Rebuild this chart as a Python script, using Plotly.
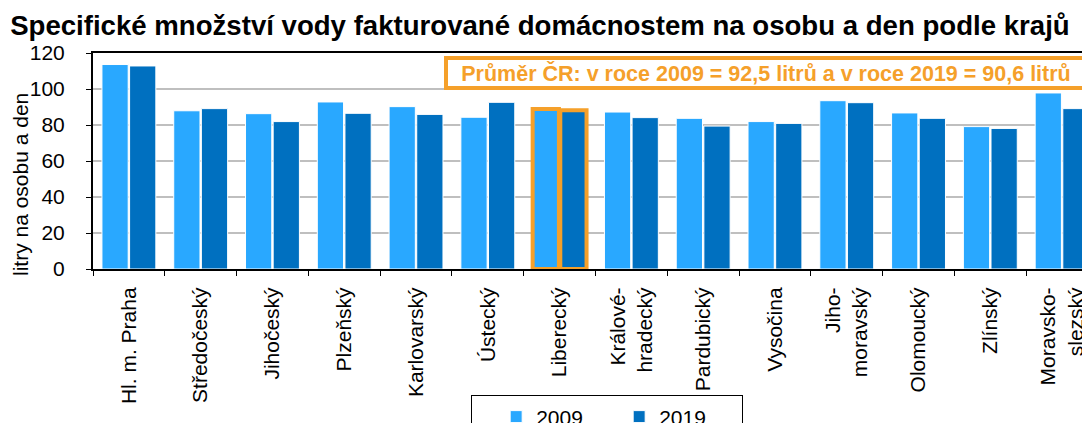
import plotly.graph_objects as go

regions = ["Hl. m. Praha", "Středočeský", "Jihočeský", "Plzeňský", "Karlovarský",
           "Ústecký", "Liberecký", "Králové-<br>hradecký", "Pardubický", "Vysočina",
           "Jiho-<br>moravský", "Olomoucký", "Zlínský", "Moravsko-<br>slezský"]
values_2009 = [113.6, 87.9, 86.3, 92.8, 90.2, 84.3, 88.9, 87.2, 83.7, 81.9, 93.5, 86.7, 79.1, 97.8]
values_2019 = [112.8, 89.1, 81.9, 86.5, 85.9, 92.6, 88.2, 84.1, 79.4, 80.9, 92.4, 83.7, 78.1, 89.1]
highlight = "Liberecký"
note = "Průměr ČR: v roce 2009 = 92,5 litrů a v roce 2019 = 90,6 litrů"

ORANGE = "#F5A02A"
FONT = "Liberation Sans, Arial, sans-serif"

# outline the highlighted region's bars in orange
line_col = [ORANGE if r == highlight else "white" for r in regions]
line_w = [4 if r == highlight else 1 for r in regions]

fig = go.Figure()
fig.add_trace(go.Bar(x=regions, y=values_2009, name="2009",
                     marker=dict(color="#29A8FF", line=dict(color=line_col, width=line_w))))
fig.add_trace(go.Bar(x=regions, y=values_2019, name="2019",
                     marker=dict(color="#0070C0", line=dict(color=line_col, width=line_w))))

fig.update_layout(
    width=1090, height=423,
    margin=dict(l=85, r=0, t=45, b=162),
    plot_bgcolor="white", paper_bgcolor="white",
    font=dict(family=FONT, size=21, color="black"),
    title=dict(text="<b>Specifické množství vody fakturované domácnostem na osobu a den podle krajů</b>",
               x=0.488, xanchor="center", y=0.958, yanchor="middle",
               font=dict(size=27.6)),
    barmode="group", bargap=0.23, bargroupgap=0.05,
    showlegend=True,
    legend=dict(orientation="h", xref="container", x=0.425, xanchor="left",
                yref="container", y=0.084, yanchor="top",
                bordercolor="black", borderwidth=1, entrywidth=78,
                font=dict(size=21), itemwidth=30,
                title=dict(text="&nbsp;&nbsp;", side="left")),
)

fig.update_xaxes(range=[-0.5, 13.5], showline=True, linecolor="black", linewidth=2, mirror=True,
                 ticks="outside", tickson="boundaries", ticklen=5, tickcolor="black",
                 tickangle=-90, ticklabelstandoff=8, showgrid=False, automargin=False)
fig.update_yaxes(range=[0, 120], dtick=20, showline=True, linecolor="black", linewidth=2,
                 ticks="outside", ticklen=5, tickcolor="black", ticklabelstandoff=17,
                 showgrid=True, gridcolor="#BFBFBF", gridwidth=1.5, automargin=False)

# y-axis title sits lower than the axis centre in the original
fig.add_annotation(text="litry na osobu a den", textangle=-90, xref="paper", yref="paper",
                   x=-0.0716, xanchor="center", y=0.389, yanchor="middle",
                   showarrow=False, font=dict(size=21))

fig.add_annotation(text=f"<b>{note}</b>", xref="paper", yref="paper",
                   x=0.990, xanchor="right", y=0.986, yanchor="top",
                   showarrow=False, font=dict(size=21.5, color=ORANGE),
                   width=636, height=26, align="center",
                   bordercolor=ORANGE, borderwidth=4, borderpad=0, bgcolor="white")

fig.write_html("out.html")
